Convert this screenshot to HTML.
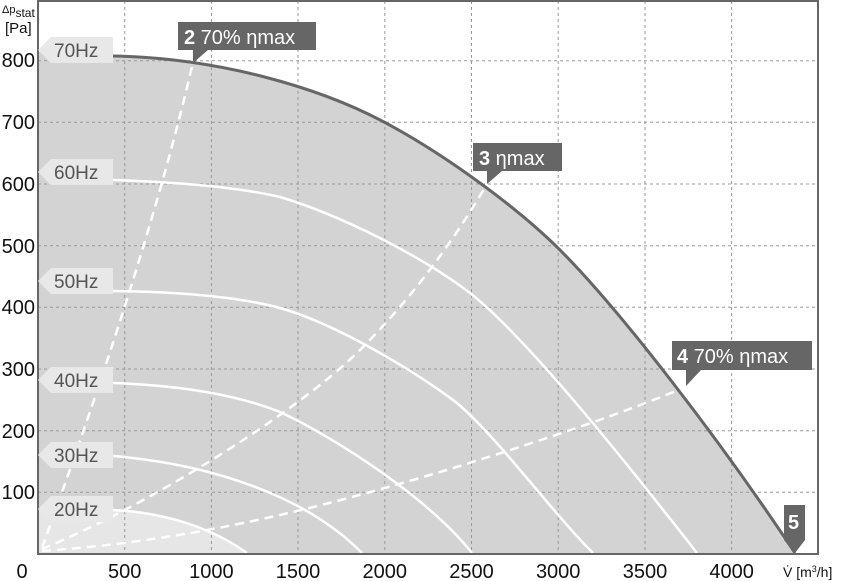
<!DOCTYPE html>
<html><head><style>body{margin:0;background:#fff}svg{display:block}text{font-family:"Liberation Sans",sans-serif}</style></head>
<body>
<svg width="847" height="581" viewBox="0 0 847 581" xmlns="http://www.w3.org/2000/svg">
<rect width="847" height="581" fill="#fff"/>
<path d="M38,52 L113,56 C220,58 320,88 384,122 C448,156 520,210 560,250 C620,310 720,440 795,553 L38,553 Z" fill="#d3d3d3"/>
<path d="M38,510 L113,510 C170,513 215,530 247,553 L38,553 Z" fill="#e6e6e6"/>
<g stroke="#999" stroke-width="1" stroke-dasharray="3,3">
<line x1="124.7" y1="1" x2="124.7" y2="553"/><line x1="211.4" y1="1" x2="211.4" y2="553"/><line x1="298" y1="1" x2="298" y2="553"/><line x1="384.8" y1="1" x2="384.8" y2="553"/><line x1="471.5" y1="1" x2="471.5" y2="553"/><line x1="558.2" y1="1" x2="558.2" y2="553"/><line x1="645" y1="1" x2="645" y2="553"/><line x1="731.6" y1="1" x2="731.6" y2="553"/>
<line x1="38" y1="492.3" x2="818" y2="492.3"/><line x1="38" y1="430.7" x2="818" y2="430.7"/><line x1="38" y1="369" x2="818" y2="369"/><line x1="38" y1="307.3" x2="818" y2="307.3"/><line x1="38" y1="245.7" x2="818" y2="245.7"/><line x1="38" y1="184" x2="818" y2="184"/><line x1="38" y1="122.3" x2="818" y2="122.3"/><line x1="38" y1="60.7" x2="818" y2="60.7"/>
</g>
<g fill="none" stroke="#fff" stroke-width="2.5">
<path d="M113,180 C200,183 250,190 280,197 C340,215 420,255 470,293 C530,340 640,480 697,553"/>
<path d="M113,291 C200,292 250,300 280,308 C340,325 420,375 457,403 C500,440 550,510 593,553"/>
<path d="M113,383 C200,386 250,400 280,412 C340,440 430,500 472,553"/>
<path d="M113,456 C220,465 310,500 362,553"/>
<path d="M113,510 C170,513 215,530 247,553"/>
</g>
<g fill="none" stroke="#fff" stroke-width="2.5" stroke-dasharray="9,6">
<path d="M42,548 C70,470 150,250 193,62"/>
<path d="M42,549 C150,505 300,410 360,350 C420,290 460,230 487,184"/>
<path d="M42,551 C200,540 330,505 450,469 C560,435 630,410 686,387"/>
</g>
<path d="M113,56 C220,58 320,88 384,122 C448,156 520,210 560,250 C620,310 720,440 795,553" fill="none" stroke="#666" stroke-width="3"/>
<rect x="38" y="1" width="780" height="553" fill="none" stroke="#666" stroke-width="2"/>
<g fill="#e8e8e8">
<path d="M38,50 L51,37 L113,37 L113,63 L51,63 Z"/>
<path d="M38,172 L51,159 L113,159 L113,185 L51,185 Z"/>
<path d="M38,281 L51,268 L113,268 L113,294 L51,294 Z"/>
<path d="M38,380 L51,367 L113,367 L113,393 L51,393 Z"/>
<path d="M38,455 L51,442 L113,442 L113,468 L51,468 Z"/>
<path d="M38,509 L51,496 L113,496 L113,522 L51,522 Z"/>
</g>
<g fill="#555" font-size="19">
<text x="54" y="57">70Hz</text><text x="54" y="179">60Hz</text><text x="54" y="288">50Hz</text><text x="54" y="387">40Hz</text><text x="54" y="462">30Hz</text><text x="54" y="516">20Hz</text>
</g>
<g fill="#666">
<path d="M178,22 L316,22 L316,50 L208,50 L193,63 L193,50 L178,50 Z"/>
<path d="M473,143 L562,143 L562,171 L502,171 L487,184 L487,171 L473,171 Z"/>
<path d="M672,341 L812,341 L812,370 L701,370 L686,386 L686,370 L672,370 Z"/>
<path d="M784,505 L805,505 L805,540 L795,553 L784,540 Z"/>
</g>
<g fill="#fff" font-size="20">
<text x="184" y="44"><tspan font-weight="bold">2</tspan> 70% ηmax</text>
<text x="479" y="165"><tspan font-weight="bold">3</tspan> ηmax</text>
<text x="677" y="363"><tspan font-weight="bold">4</tspan> 70% ηmax</text>
<text x="788" y="529" font-weight="bold">5</text>
</g>
<g fill="#111" font-size="20" text-anchor="end">
<text x="35" y="67">800</text><text x="35" y="129">700</text><text x="35" y="191">600</text><text x="35" y="253">500</text><text x="35" y="314">400</text><text x="35" y="376">300</text><text x="35" y="438">200</text><text x="35" y="499">100</text>
</g>
<g fill="#111" font-size="20" text-anchor="middle">
<text x="22" y="578">0</text><text x="124.7" y="578">500</text><text x="211.4" y="578">1000</text><text x="298" y="578">1500</text><text x="384.8" y="578">2000</text><text x="471.5" y="578">2500</text><text x="558.2" y="578">3000</text><text x="645" y="578">3500</text><text x="731.6" y="578">4000</text>
</g>
<text x="783" y="577" font-size="14" fill="#111">V̇ [m<tspan font-size="9" dy="-5">3</tspan><tspan dy="5">/h]</tspan></text>
<text x="2" y="13" font-size="11" fill="#111">Δp<tspan font-size="12" dy="4">stat</tspan></text>
<text x="5" y="33" font-size="15" fill="#111">[Pa]</text>
</svg>
</body></html>
